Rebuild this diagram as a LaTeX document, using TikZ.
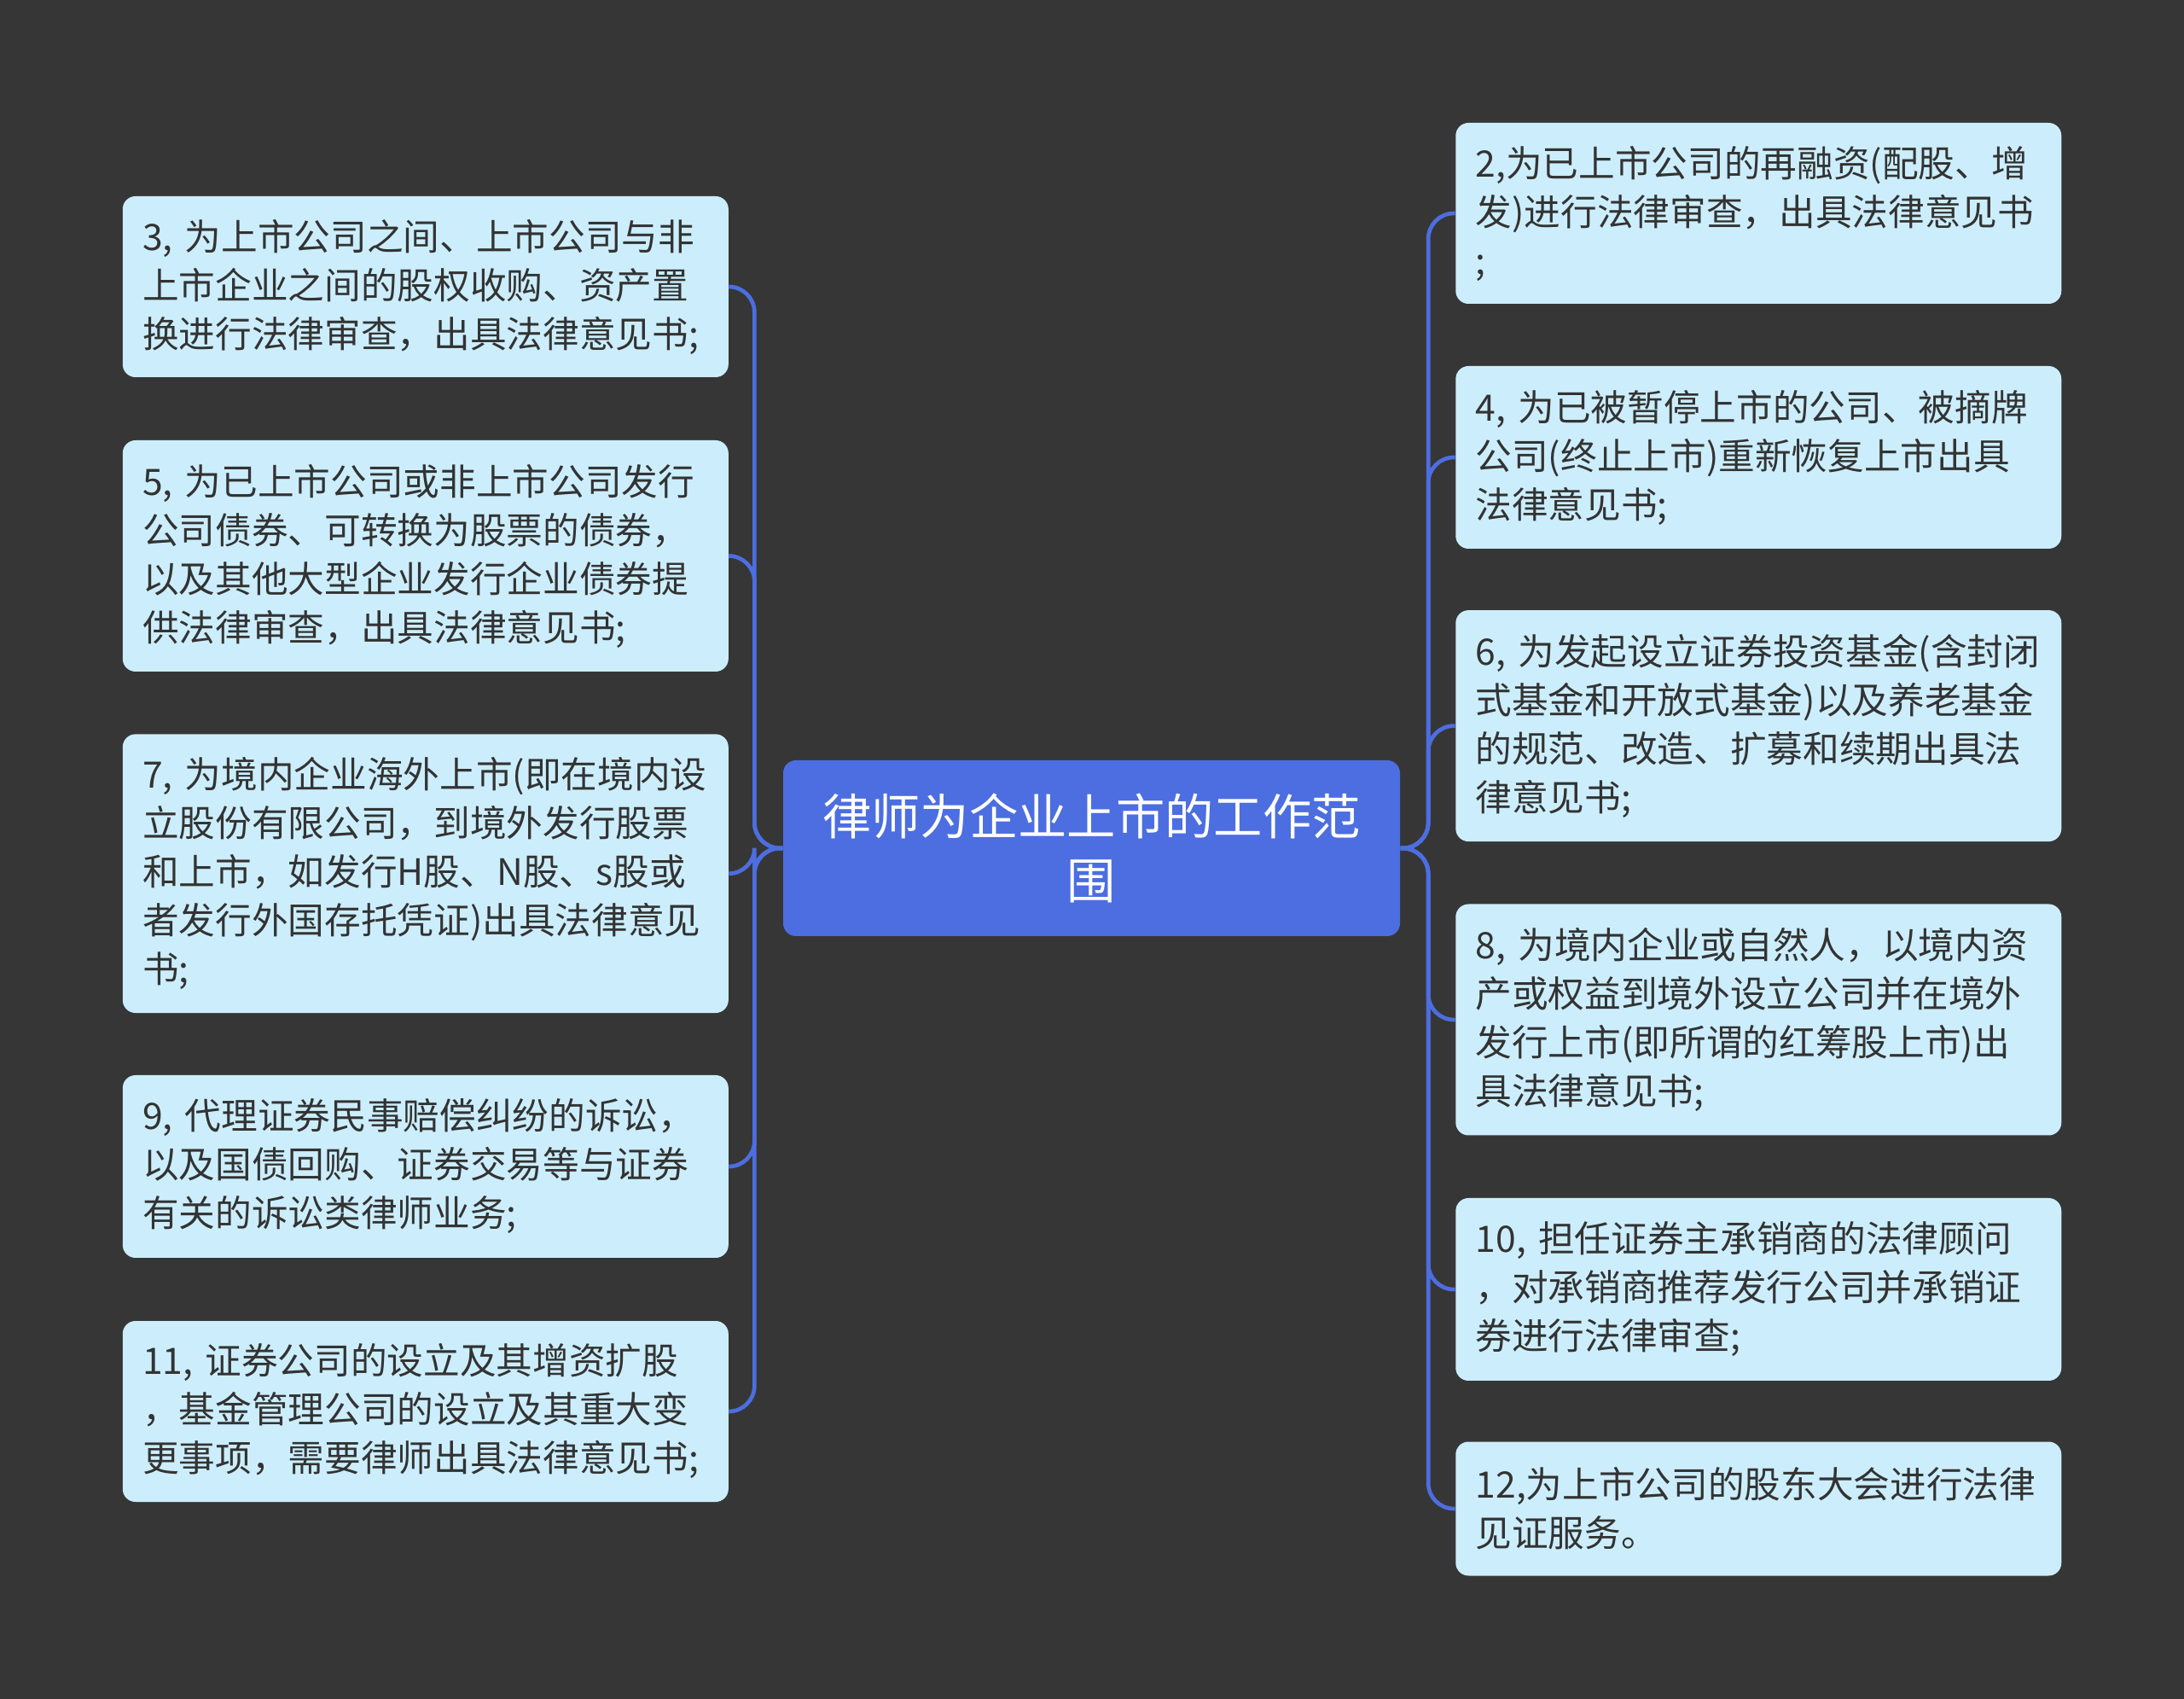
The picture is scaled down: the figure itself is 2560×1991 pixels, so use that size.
\documentclass[tikz,border=0pt]{standalone}
\usepackage{fontspec}
\setmainfont{Noto Sans CJK SC}
\usetikzlibrary{positioning}
\definecolor{bgdark}{RGB}{55,54,55}
\definecolor{leafcyan}{RGB}{204,238,252}
\definecolor{topicblue}{RGB}{76,110,224}
\definecolor{inkgray}{RGB}{51,51,51}

\begin{document}
\begin{tikzpicture}[
  x=0.3pt, y=-0.3pt,
  leaf/.style={fill=leafcyan, rounded corners=4.5pt, text=inkgray, align=left, text width=199pt, inner xsep=7pt, inner ysep=0pt, font=\fontsize{12.8}{17.1}\selectfont},
  topic/.style={fill=topicblue, rounded corners=4.5pt, text=white, align=center, text width=200pt, inner xsep=8.45pt, inner ysep=0pt, minimum height=61.8pt, font=\fontsize{17.2}{22.5}\selectfont},
  link/.style={draw=topicblue, line width=1.4pt, rounded corners=9pt}
]

\fill[bgdark] (0,0) rectangle (2560,1991);

\node[topic] (topic) at (1279.5,994)
  {律师为企业上市的工作范\\围};

% left side
\node[leaf, minimum height=63.6pt] (l3) at (498.8,336)
  {3, 为上市公司之间、上市公司与非\\上市企业之间的股权收购、资产置\\换进行法律审查，出具法律意见书;};
\node[leaf, minimum height=81.3pt] (l5) at (498.8,651.5)
  {5, 为已上市公司或非上市公司发行\\公司债券、可转换为股票的债券，\\以及其他大型企业发行企业债券提\\供法律审查，出具法律意见书;};
\node[leaf, minimum height=98pt] (l7) at (498.8,1023.7)
  {7, 为境内企业海外上市(即在境内设\\立股份有限公司，到境外发行股票\\和上市，如发行H股、N股、s股或\\者发行外国存托凭证)出具法律意见\\书;};
\node[leaf, minimum height=64.2pt] (l9) at (498.8,1367)
  {9, 代理证券民事赔偿纠纷的诉讼，\\以及国债回购、证券交易等与证券\\有关的诉讼类律师业务;};
\node[leaf, minimum height=63.6pt] (l11) at (498.8,1654)
  {11, 证券公司的设立及其增资扩股\\，基金管理公司的设立及其重大变\\更事项，需要律师出具法律意见书;};

% right side
\node[leaf, minimum height=63.6pt] (r2) at (2061.3,250)
  {2,为已上市公司的再融资(配股、增\\发)进行法律审查，出具法律意见书\\;};
\node[leaf, minimum height=64.2pt] (r4) at (2061.3,536)
  {4, 为已被暂停上市的公司、被摘牌\\公司(终止上市)重新恢复上市出具\\法律意见书;};
\node[leaf, minimum height=81.3pt] (r6) at (2061.3,850.6)
  {6, 为发起设立证券投资基金(含封闭\\式基金和开放式基金)以及养老基金\\的规范、改造、扩募和续期出具法\\律意见书;};
\node[leaf, minimum height=81.3pt] (r8) at (2061.3,1195)
  {8, 为境内企业或自然人，以境内资\\产或权益到境外设立公司并在境外\\发行上市(即所谓的红筹股上市)出\\具法律意见书;};
\node[leaf, minimum height=64.2pt] (r10) at (2061.3,1511)
  {10, 担任证券主承销商的法律顾问\\，对承销商推荐发行公司并承销证\\券进行法律审查;};
\node[leaf, minimum height=47.1pt] (r12) at (2061.3,1768)
  {12,为上市公司的股东大会进行法律\\见证服务。};

\foreach \n in {l3,l5,l7,l9,l11}
  \draw[link] (topic.west) -- ++(-33,0) |- (\n.east);
\foreach \n in {r2,r4,r6,r8,r10,r12}
  \draw[link] (topic.east) -- ++(32.5,0) |- (\n.west);

\end{tikzpicture}
\end{document}
